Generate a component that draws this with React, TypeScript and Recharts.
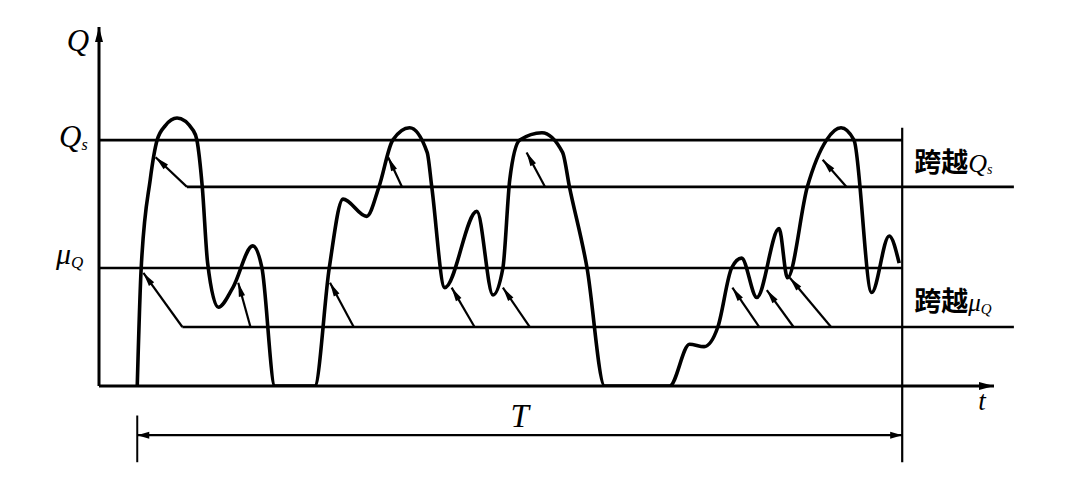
import React from "react";
import { ComposedChart, Line, XAxis, YAxis, ReferenceLine, ReferenceDot } from "recharts";

// flow process Q(t): time in % of T, Q in % of Q_s
const timeT = [
  0, 0.5, 1.7, 2.6, 3.7, 5.2, 7.3, 7.8, 8.5, 9.2, 10.6, 12.5, 15.1, 16.3, 18.0,
  23.2, 25.1, 26.9, 30.0, 31.6, 33.4, 35.6, 37.9, 38.5, 40.2, 44.4, 46.5, 47.8, 48.7, 50.0, 52.9, 55.6, 56.5, 58.8, 61.1,
  69.6, 72.2, 74.1, 75.9, 77.7, 79.0, 81.0, 83.9, 85.0, 87.6, 90.1, 92.0, 93.7, 96.0, 98.3, 99.6,
];
const flowQ = [
  0, 47, 84, 100, 106, 109, 104, 100, 81, 50, 32, 40, 57, 48, 0,
  0, 48, 76, 69, 81, 100, 105, 95, 81, 40, 71, 37, 48, 84, 100, 103, 95, 81, 48, 0,
  0, 17, 16, 24, 48, 52, 36, 64, 44, 81, 100, 105, 100, 38, 61, 50,
];

const T_START = 0;
const T_END = 100;
const Q_S = 100; // level Q_s
const MU_Q = 48; // mean level
const CROSS_QS = 81; // counting line for Q_s up-crossings
const CROSS_MU = 24; // counting line for mean up-crossings
const LINE_END = 114.6;
const T_DOMAIN: [number, number] = [-5, 112];
const Q_DOMAIN: [number, number] = [0, 146];

// up-crossings: tip on the curve and foot on the counting line
const qsTipT = [2.4, 32.8, 50.9, 89.6];
const qsTipQ = [93, 93, 95, 92];
const qsFootT = [6.5, 34.6, 53.3, 92.7];
const muTipT = [0.8, 13.2, 25.2, 41.1, 47.8, 77.8, 82.3, 85.3];
const muTipQ = [46, 42, 42, 40, 40, 40, 39, 44];
const muFootT = [5.9, 14.8, 28.3, 44.1, 51.3, 81.3, 85.8, 90.7];

const T_BAR_Q = -20;
const T_TICK_TOP = -12;
const T_TICK_BOTTOM = -31;
const T_END_TOP = 105;

const data = timeT.map((t, i) => ({ t, q: flowQ[i] }));

function head(x: number, y: number, fx: number, fy: number, len: number, w: number) {
  const dx = x - fx;
  const dy = y - fy;
  const d = Math.hypot(dx, dy) || 1;
  const ux = dx / d;
  const uy = dy / d;
  const bx = x - ux * len;
  const by = y - uy * len;
  return `${x},${y} ${bx - uy * w},${by + ux * w} ${bx + uy * w},${by - ux * w}`;
}

function arrow(atStart: boolean, atEnd: boolean, width: number, len = 14, hw = 3.2) {
  return (p: any) => {
    const { x1, y1, x2, y2 } = p;
    return (
      <g>
        <line x1={x1} y1={y1} x2={x2} y2={y2} stroke="#000" strokeWidth={width} />
        {atEnd && <polygon points={head(x2, y2, x1, y1, len, hw)} fill="#000" />}
        {atStart && <polygon points={head(x1, y1, x2, y2, len, hw)} fill="#000" />}
      </g>
    );
  };
}

const serif = "'Liberation Serif', 'DejaVu Serif', serif";
const cjk = "'Noto Sans CJK SC', sans-serif";

function label(render: (x: number, y: number) => React.ReactElement) {
  return (p: any) => render(p.cx, p.cy);
}

export default function App() {
  return (
    <div style={{ position: "absolute", left: 0, top: 0, background: "#fff" }}>
      <ComposedChart width={1065} height={484} data={data} margin={{ top: 27, right: 71, bottom: 98, left: 99 }}>
        <XAxis dataKey="t" type="number" domain={T_DOMAIN} allowDataOverflow hide />
        <YAxis type="number" domain={Q_DOMAIN} allowDataOverflow hide />

        {/* axes */}
        <ReferenceLine segment={[{ x: T_DOMAIN[0], y: 0 }, { x: T_DOMAIN[0], y: Q_DOMAIN[1] }]} ifOverflow="visible" shape={arrow(false, true, 3, 15, 4)} />
        <ReferenceLine segment={[{ x: T_DOMAIN[0], y: 0 }, { x: T_DOMAIN[1], y: 0 }]} ifOverflow="visible" shape={arrow(false, true, 3, 15, 4)} />

        {/* levels */}
        <ReferenceLine segment={[{ x: T_DOMAIN[0], y: Q_S }, { x: T_END, y: Q_S }]} ifOverflow="visible" shape={arrow(false, false, 2.6)} />
        <ReferenceLine segment={[{ x: T_DOMAIN[0], y: MU_Q }, { x: T_END, y: MU_Q }]} ifOverflow="visible" shape={arrow(false, false, 2.6)} />

        {/* counting lines */}
        <ReferenceLine segment={[{ x: qsFootT[0], y: CROSS_QS }, { x: LINE_END, y: CROSS_QS }]} ifOverflow="visible" shape={arrow(false, false, 2.6)} />
        <ReferenceLine segment={[{ x: muFootT[0], y: CROSS_MU }, { x: LINE_END, y: CROSS_MU }]} ifOverflow="visible" shape={arrow(false, false, 2.6)} />
        {qsTipT.map((t, i) => (
          <ReferenceLine key={`qs${i}`} segment={[{ x: qsFootT[i], y: CROSS_QS }, { x: t, y: qsTipQ[i] }]} ifOverflow="visible" shape={arrow(false, true, 2.2)} />
        ))}
        {muTipT.map((t, i) => (
          <ReferenceLine key={`mu${i}`} segment={[{ x: muFootT[i], y: CROSS_MU }, { x: t, y: muTipQ[i] }]} ifOverflow="visible" shape={arrow(false, true, 2.2)} />
        ))}

        {/* period T */}
        <ReferenceLine segment={[{ x: T_END, y: T_END_TOP }, { x: T_END, y: T_TICK_BOTTOM }]} ifOverflow="visible" shape={arrow(false, false, 2.2)} />
        <ReferenceLine segment={[{ x: T_START, y: T_TICK_TOP }, { x: T_START, y: T_TICK_BOTTOM }]} ifOverflow="visible" shape={arrow(false, false, 2)} />
        <ReferenceLine segment={[{ x: T_START, y: T_BAR_Q }, { x: T_END, y: T_BAR_Q }]} ifOverflow="visible" shape={arrow(true, true, 2.2, 12, 3.5)} />

        <Line dataKey="q" type="monotone" stroke="#000" strokeWidth={3.6} dot={false} activeDot={false} isAnimationActive={false} />

        {/* labels */}
        <ReferenceDot x={T_DOMAIN[0]} y={Q_DOMAIN[1]} ifOverflow="visible" shape={label((x, y) => (
          <text x={x - 21} y={y + 24} textAnchor="middle" fontFamily={serif} fontStyle="italic" fontSize={31}>Q</text>
        ))} />
        <ReferenceDot x={T_DOMAIN[0]} y={Q_S} ifOverflow="visible" shape={label((x, y) => (
          <text x={x - 40} y={y + 7} fontFamily={serif} fontStyle="italic" fontSize={31}>
            Q<tspan fontSize={16} dy={3}>s</tspan>
          </text>
        ))} />
        <ReferenceDot x={T_DOMAIN[0]} y={MU_Q} ifOverflow="visible" shape={label((x, y) => (
          <text x={x - 43} y={y - 4} fontFamily={serif} fontStyle="italic" fontSize={30}>
            μ<tspan fontSize={17} dy={4}>Q</tspan>
          </text>
        ))} />
        <ReferenceDot x={T_END} y={Q_S} ifOverflow="visible" shape={label((x, y) => (
          <text x={x + 12} y={y + 32} fontFamily={cjk} fontWeight={700} fontSize={27}>
            跨越<tspan fontFamily={serif} fontStyle="italic" fontWeight={400} fontSize={26}>Q</tspan>
            <tspan fontFamily={serif} fontStyle="italic" fontWeight={400} fontSize={14} dy={2}>s</tspan>
          </text>
        ))} />
        <ReferenceDot x={T_END} y={MU_Q} ifOverflow="visible" shape={label((x, y) => (
          <text x={x + 12} y={y + 43} fontFamily={cjk} fontWeight={700} fontSize={27}>
            跨越<tspan fontFamily={serif} fontStyle="italic" fontWeight={400} fontSize={25}>μ</tspan>
            <tspan fontFamily={serif} fontStyle="italic" fontWeight={400} fontSize={15} dy={3}>Q</tspan>
          </text>
        ))} />
        <ReferenceDot x={(T_START + T_END) / 2} y={T_BAR_Q} ifOverflow="visible" shape={label((x, y) => (
          <text x={x} y={y - 8} textAnchor="middle" fontFamily={serif} fontStyle="italic" fontSize={33}>T</text>
        ))} />
        <ReferenceDot x={T_DOMAIN[1]} y={0} ifOverflow="visible" shape={label((x, y) => (
          <text x={x - 12} y={y + 24} textAnchor="middle" fontFamily={serif} fontStyle="italic" fontSize={27}>t</text>
        ))} />
      </ComposedChart>
    </div>
  );
}
